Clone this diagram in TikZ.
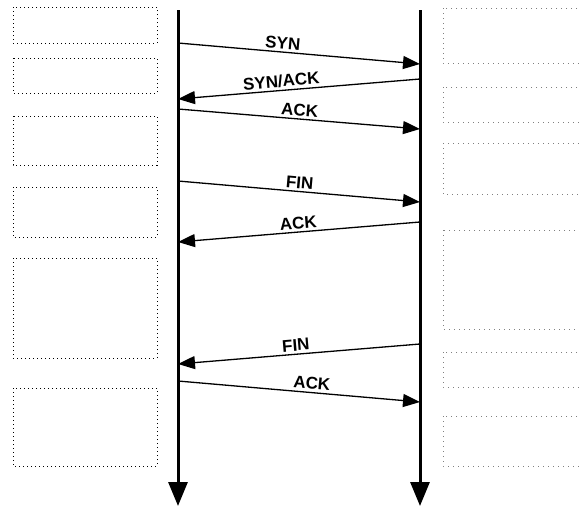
\documentclass[tikz,border=0pt]{standalone}
\usepackage{fontspec}
\setmainfont{Liberation Sans}
\usetikzlibrary{arrows.meta}
\tikzset{
  lifeline/.style={line width=3pt,-{Triangle[length=24pt,width=19pt]}},
  msg/.style={line width=1.3pt,-{Triangle[length=17pt,width=13pt]}},
  lbl/.style={font=\bfseries\fontsize{17}{17}\selectfont,sloped,above,inner sep=2.5pt},
  leftbox/.style={line width=1pt,dash pattern=on 1pt off 3pt},
  rightbox/.style={line width=1pt,dash pattern=on 1pt off 4pt,gray},
}
\begin{document}
\begin{tikzpicture}[x=1pt,y=-1pt]
\clip (0,0) rectangle (579,507);
\fill[white] (0,0) rectangle (579,507);
\draw[leftbox] (13,7) rectangle (157,43);
\draw[leftbox] (13,58) rectangle (157,93);
\draw[leftbox] (13,116) rectangle (157,165);
\draw[leftbox] (13,187) rectangle (157,237);
\draw[leftbox] (13,258) rectangle (157,358);
\draw[leftbox] (13,388) rectangle (157,466);
\draw[rightbox] (443,8) rectangle (600,63);
\draw[rightbox] (443,87) rectangle (600,122);
\draw[rightbox] (443,143) rectangle (600,194);
\draw[rightbox] (443,230) rectangle (600,329);
\draw[rightbox] (443,352) rectangle (600,387);
\draw[rightbox] (443,416) rectangle (600,466);
\coordinate (ctop) at (178,10);
\coordinate (cbot) at (178,506);
\coordinate (stop) at (420,10);
\coordinate (sbot) at (420,506);
\draw[lifeline] (ctop) -- (cbot);
\draw[lifeline] (stop) -- (sbot);
\coordinate (c1) at (178,43);
\coordinate (s1) at (420,64);
\coordinate (s2) at (420,79);
\coordinate (c2) at (178,99);
\coordinate (c3) at (178,109);
\coordinate (s3) at (420,129);
\coordinate (c4) at (178,181);
\coordinate (s4) at (420,202);
\coordinate (s5) at (420,222);
\coordinate (c5) at (178,242);
\coordinate (s6) at (420,344);
\coordinate (c6) at (178,364);
\coordinate (c7) at (178,381);
\coordinate (s7) at (420,402);
\draw[msg] (c1) -- (s1) node[lbl,pos=0.43] {SYN};
\draw[msg] (s2) -- (c2) node[lbl,pos=0.57] {SYN/ACK};
\draw[msg] (c3) -- (s3) node[lbl,pos=0.5] {ACK};
\draw[msg] (c4) -- (s4) node[lbl,pos=0.5] {FIN};
\draw[msg] (s5) -- (c5) node[lbl,pos=0.5] {ACK};
\draw[msg] (s6) -- (c6) node[lbl,pos=0.51] {FIN};
\draw[msg] (c7) -- (s7) node[lbl,pos=0.55] {ACK};
\end{tikzpicture}
\end{document}
